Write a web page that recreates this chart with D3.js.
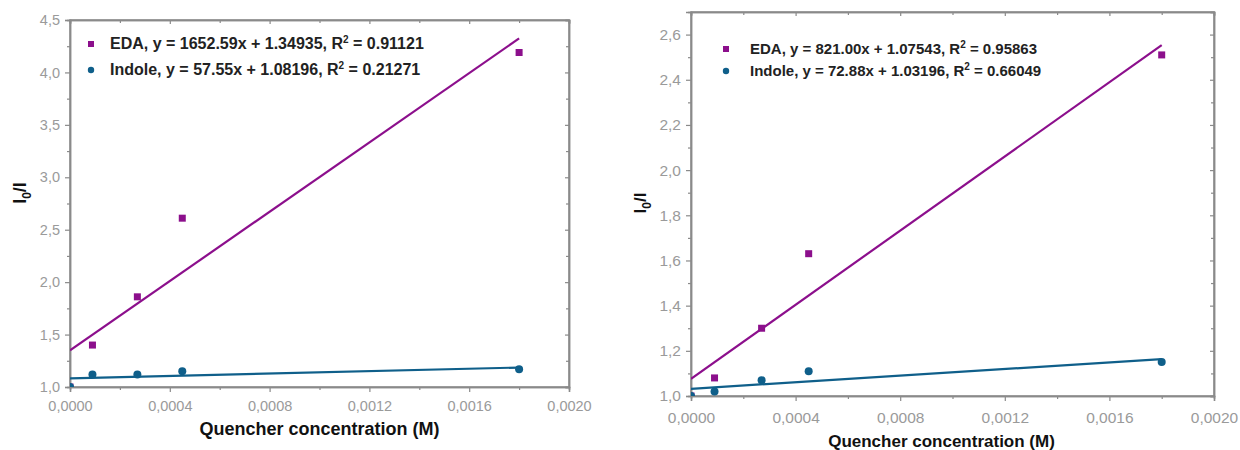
<!DOCTYPE html>
<html>
<head>
<meta charset="utf-8">
<script src="https://cdn.jsdelivr.net/npm/d3@7"></script>
<style>
  body { margin: 0; background: #fff; font-family: "Liberation Sans", Arial, sans-serif; }
  svg { display: block; }
</style>
</head>
<body>
<svg id="chart" width="1240" height="450"></svg>
<script>
// quencher concentration (M), same for both panels
const concentrations = [0, 0.00009, 0.00027, 0.00045, 0.0018];

// left panel
const edaLeft = [1.0, 1.40, 1.86, 2.61, 4.19];
const indoleLeft = [1.0, 1.12, 1.12, 1.15, 1.17];
const fitLeft = { eda: [1652.59, 1.34935, '0.91121'], indole: [57.55, 1.08196, '0.21271'] };
const yTicksLeft = [1.0, 1.5, 2.0, 2.5, 3.0, 3.5, 4.0, 4.5];

// right panel
const edaRight = [1.0, 1.08, 1.30, 1.63, 2.51];
const indoleRight = [1.0, 1.02, 1.07, 1.11, 1.15];
const fitRight = { eda: [821.00, 1.07543, '0.95863'], indole: [72.88, 1.03196, '0.66049'] };
const yTicksRight = [1.0, 1.2, 1.4, 1.6, 1.8, 2.0, 2.2, 2.4, 2.6];

const xTicks = [0, 0.0004, 0.0008, 0.0012, 0.0016, 0.002];

const purple = '#8c0f8c';
const blue = '#0f5f8a';
const axisColor = '#8a8a8a';
const tickText = '#9a9a9a';

const svg = d3.select('#chart');
const fmtComma = (d, n) => d.toFixed(n).replace('.', ',');

function drawPanel(opt, id) {
  const x = d3.scaleLinear().domain([0, 0.002]).range([opt.left, opt.right]);
  const y = d3.scaleLinear().domain(opt.yDomain).range([opt.bottom, opt.top]);
  const g = svg.append('g');

  // frame
  g.append('rect')
    .attr('x', opt.left).attr('y', opt.top)
    .attr('width', opt.right - opt.left).attr('height', opt.bottom - opt.top)
    .attr('fill', 'none').attr('stroke', axisColor).attr('stroke-width', 1.5);

  const xMinor = d3.range(0.0002, 0.002, 0.0004);
  const yMinor = opt.yTicks.map(d => d + opt.yStep / 2).filter(d => d < opt.yDomain[1]);

  // bottom axis (ticks out)
  g.append('g').attr('transform', `translate(0,${opt.bottom})`)
    .call(d3.axisBottom(x).tickValues(xTicks).tickSize(5).tickPadding(opt.xPad).tickFormat(d => fmtComma(d, 4)));
  g.append('g').attr('transform', `translate(0,${opt.bottom})`)
    .call(d3.axisBottom(x).tickValues(xMinor).tickSize(3).tickFormat(''));
  // left axis (ticks out)
  g.append('g').attr('transform', `translate(${opt.left},0)`)
    .call(d3.axisLeft(y).tickValues(opt.yTicks).tickSize(5).tickPadding(5).tickFormat(d => fmtComma(d, 1)));
  g.append('g').attr('transform', `translate(${opt.left},0)`)
    .call(d3.axisLeft(y).tickValues(yMinor).tickSize(3).tickFormat(''));
  // top axis (ticks in)
  g.append('g').attr('transform', `translate(0,${opt.top})`)
    .call(d3.axisTop(x).tickValues(xTicks).tickSize(-4).tickFormat(''));
  g.append('g').attr('transform', `translate(0,${opt.top})`)
    .call(d3.axisTop(x).tickValues(xMinor).tickSize(-3).tickFormat(''));
  // right axis (ticks in)
  g.append('g').attr('transform', `translate(${opt.right},0)`)
    .call(d3.axisRight(y).tickValues(opt.yTicks).tickSize(-4).tickFormat(''));
  g.append('g').attr('transform', `translate(${opt.right},0)`)
    .call(d3.axisRight(y).tickValues(yMinor).tickSize(-3).tickFormat(''));

  g.selectAll('.domain').attr('stroke', axisColor).attr('stroke-width', 1.5);
  g.selectAll('.tick line').attr('stroke', axisColor).attr('stroke-width', 1.2);
  g.selectAll('.tick text').attr('fill', tickText)
    .style('font-size', opt.tickFont + 'px').style('font-family', '"Liberation Sans", Arial, sans-serif');

  // clip for markers
  svg.append('clipPath').attr('id', 'clip' + id).append('rect')
    .attr('x', opt.left).attr('y', opt.top)
    .attr('width', opt.right - opt.left).attr('height', opt.bottom - opt.top);
  const plot = g.append('g').attr('clip-path', `url(#clip${id})`);

  // fit lines
  const x0 = d3.min(concentrations), x1 = d3.max(concentrations);
  [[opt.fit.eda, purple], [opt.fit.indole, blue]].forEach(([f, c]) => {
    plot.append('line')
      .attr('x1', x(x0)).attr('y1', y(f[0] * x0 + f[1]))
      .attr('x2', x(x1)).attr('y2', y(f[0] * x1 + f[1]))
      .attr('stroke', c).attr('stroke-width', 2.2);
  });

  // points
  plot.selectAll('.sq').data(concentrations).enter().append('rect')
    .attr('x', (d) => x(d) - 3.5).attr('y', (d, i) => y(opt.eda[i]) - 3.5)
    .attr('width', 7).attr('height', 7).attr('fill', purple);
  plot.selectAll('.ci').data(concentrations).enter().append('circle')
    .attr('cx', (d) => x(d)).attr('cy', (d, i) => y(opt.indole[i]))
    .attr('r', 4).attr('fill', blue);

  // legend
  const leg = [
    ['EDA', opt.fit.eda, purple, 'rect'],
    ['Indole', opt.fit.indole, blue, 'circle']
  ];
  leg.forEach(([name, f, c, shape], i) => {
    const ly = opt.legY + i * opt.legGap;
    if (shape === 'rect') {
      g.append('rect').attr('x', opt.legX - 3).attr('y', ly - 3).attr('width', 6).attr('height', 6).attr('fill', c);
    } else {
      g.append('circle').attr('cx', opt.legX).attr('cy', ly).attr('r', 3.2).attr('fill', c);
    }
    const t = g.append('text')
      .attr('x', opt.legX + opt.legText).attr('y', ly + 5)
      .style('font-size', opt.legFont + 'px').style('font-weight', 'bold').attr('fill', '#222');
    t.append('tspan').text(`${name}, y = ${f[0].toFixed(2)}x + ${f[1].toFixed(5)}, R`);
    t.append('tspan').attr('dy', -6).style('font-size', '10px').text('2');
    t.append('tspan').attr('dy', 6).text(` = ${f[2]}`);
  });

  // axis titles
  g.append('text')
    .attr('x', (opt.left + opt.right) / 2 - opt.xTitleShift).attr('y', opt.xTitleY)
    .attr('text-anchor', 'middle')
    .style('font-size', opt.titleFont + 'px').style('font-weight', 'bold').attr('fill', '#111')
    .text('Quencher concentration (M)');

  const yt = g.append('text')
    .attr('transform', `translate(${opt.yTitleX},${opt.yTitleY}) rotate(-90)`)
    .attr('text-anchor', 'middle')
    .style('font-size', opt.titleFont + 'px').style('font-weight', 'bold').attr('fill', '#111');
  yt.append('tspan').text('I');
  yt.append('tspan').attr('dy', 5).style('font-size', '12px').text('0');
  yt.append('tspan').attr('dy', -5).text('/I');
}

drawPanel({
  left: 70, right: 569, top: 20, bottom: 387,
  yDomain: [1.0, 4.5], yTicks: yTicksLeft, yStep: 0.5,
  eda: edaLeft, indole: indoleLeft, fit: fitLeft,
  legX: 91, legY: 44, legGap: 26, legText: 19, legFont: 16,
  tickFont: 14.5, xPad: 9, titleFont: 18,
  xTitleY: 435, xTitleShift: 0, yTitleX: 26, yTitleY: 193
}, 'L');

drawPanel({
  left: 691, right: 1214, top: 12, bottom: 396,
  yDomain: [1.0, 2.7], yTicks: yTicksRight, yStep: 0.2,
  eda: edaRight, indole: indoleRight, fit: fitRight,
  legX: 726, legY: 49, legGap: 22, legText: 24, legFont: 15,
  tickFont: 15.5, xPad: 11, titleFont: 17,
  xTitleY: 447, xTitleShift: 11, yTitleX: 646, yTitleY: 203
}, 'R');
</script>
</body>
</html>
